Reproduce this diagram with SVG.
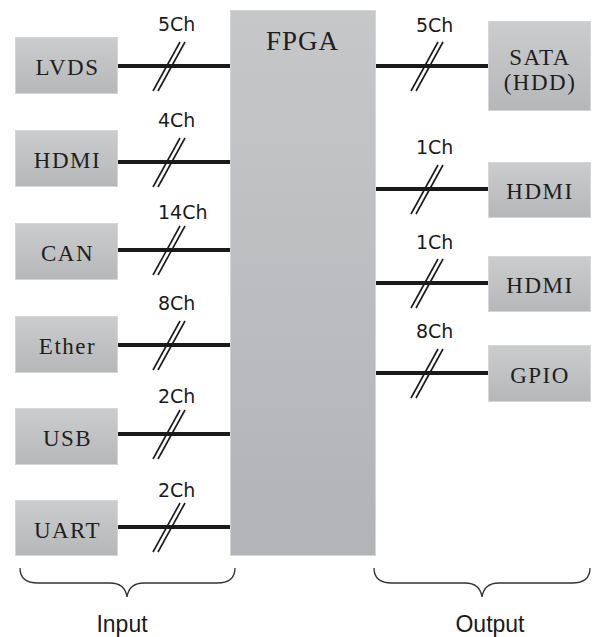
<svg xmlns="http://www.w3.org/2000/svg" xmlns:xlink="http://www.w3.org/1999/xlink" width="592" height="637" viewBox="0 0 592 637">
  <style>
    .box { fill: url(#boxGrad); stroke: #d6d6d8; stroke-width: 1; }
    .fpga { fill: url(#fpgaGrad); stroke: #d6d6d8; stroke-width: 1; }
    .lbl { font-family: "Liberation Serif", "Times New Roman", serif; font-size: 23px; letter-spacing: 1.5px; fill: #1e1e1e; text-anchor: middle; }
    .ch { font-family: "DejaVu Sans", Verdana, sans-serif; font-size: 19px; fill: #1a1a1a; }
    .bus { stroke: #1a1a1a; stroke-width: 4; fill: none; }
    .sl { stroke: #1a1a1a; stroke-width: 1.6; fill: none; }
    .brace { stroke: #333; stroke-width: 1.3; fill: none; }
    .cap { font-family: "Liberation Sans", Arial, sans-serif; font-size: 23px; fill: #1a1a1a; text-anchor: middle; }
  </style>
  <defs>
    <linearGradient id="boxGrad" x1="0" y1="0" x2="0" y2="1">
      <stop offset="0" stop-color="#cbcccd"/>
      <stop offset="1" stop-color="#b6b7b9"/>
    </linearGradient>
    <linearGradient id="fpgaGrad" x1="0" y1="0" x2="0" y2="1">
      <stop offset="0" stop-color="#c6c7c9"/>
      <stop offset="1" stop-color="#b2b3b6"/>
    </linearGradient>
    <g id="slash">
      <line class="sl" x1="-16" y1="25" x2="11" y2="-24"/>
      <line class="sl" x1="-11" y1="25" x2="16" y2="-24"/>
    </g>
  </defs>

  <g id="connectors">
    <line class="bus" x1="118" y1="66" x2="231" y2="66"/>
    <line class="bus" x1="118" y1="162" x2="231" y2="162"/>
    <line class="bus" x1="118" y1="250" x2="231" y2="250"/>
    <line class="bus" x1="118" y1="345" x2="231" y2="345"/>
    <line class="bus" x1="118" y1="434" x2="231" y2="434"/>
    <line class="bus" x1="118" y1="527" x2="231" y2="527"/>
    <line class="bus" x1="375" y1="66" x2="488" y2="66"/>
    <line class="bus" x1="375" y1="189" x2="488" y2="189"/>
    <line class="bus" x1="375" y1="283" x2="488" y2="283"/>
    <line class="bus" x1="375" y1="373" x2="488" y2="373"/>
    <use xlink:href="#slash" x="169" y="66"/>
    <use xlink:href="#slash" x="169" y="162"/>
    <use xlink:href="#slash" x="169" y="250"/>
    <use xlink:href="#slash" x="169" y="345"/>
    <use xlink:href="#slash" x="169" y="434"/>
    <use xlink:href="#slash" x="169" y="527"/>
    <use xlink:href="#slash" x="427" y="66"/>
    <use xlink:href="#slash" x="427" y="189"/>
    <use xlink:href="#slash" x="427" y="283"/>
    <use xlink:href="#slash" x="427" y="373"/>
    <text class="ch" x="158" y="31">5Ch</text>
    <text class="ch" x="158" y="127">4Ch</text>
    <text class="ch" x="158" y="219">14Ch</text>
    <text class="ch" x="158" y="310">8Ch</text>
    <text class="ch" x="158" y="403">2Ch</text>
    <text class="ch" x="158" y="497">2Ch</text>
    <text class="ch" x="416" y="32">5Ch</text>
    <text class="ch" x="416" y="154">1Ch</text>
    <text class="ch" x="416" y="249">1Ch</text>
    <text class="ch" x="416" y="338">8Ch</text>
  </g>

  <g id="fpga">
    <rect class="fpga" x="230.5" y="10.5" width="145" height="545"/>
    <text class="lbl" x="302.5" y="50" style="font-size:27px;letter-spacing:1px">FPGA</text>
  </g>

  <g id="in-lvds">
    <rect class="box" x="15.5" y="37.5" width="102" height="56"/>
    <text class="lbl" x="67.5" y="75">LVDS</text>
  </g>
  <g id="in-hdmi">
    <rect class="box" x="15.5" y="130.5" width="102" height="56"/>
    <text class="lbl" x="67.5" y="168">HDMI</text>
  </g>
  <g id="in-can">
    <rect class="box" x="15.5" y="223.5" width="102" height="56"/>
    <text class="lbl" x="67.5" y="261">CAN</text>
  </g>
  <g id="in-ether">
    <rect class="box" x="15.5" y="316.5" width="102" height="56"/>
    <text class="lbl" x="67.5" y="354">Ether</text>
  </g>
  <g id="in-usb">
    <rect class="box" x="15.5" y="408.5" width="102" height="56"/>
    <text class="lbl" x="67.5" y="446">USB</text>
  </g>
  <g id="in-uart">
    <rect class="box" x="15.5" y="500.5" width="102" height="55"/>
    <text class="lbl" x="67.5" y="538">UART</text>
  </g>

  <g id="out-sata">
    <rect class="box" x="488.5" y="21.5" width="102" height="89"/>
    <text class="lbl" x="540" y="65">SATA</text>
    <text class="lbl" x="540" y="90">(HDD)</text>
  </g>
  <g id="out-hdmi1">
    <rect class="box" x="488.5" y="162.5" width="102" height="55"/>
    <text class="lbl" x="540" y="199">HDMI</text>
  </g>
  <g id="out-hdmi2">
    <rect class="box" x="488.5" y="256.5" width="102" height="55"/>
    <text class="lbl" x="540" y="293">HDMI</text>
  </g>
  <g id="out-gpio">
    <rect class="box" x="488.5" y="345.5" width="102" height="56"/>
    <text class="lbl" x="540" y="383">GPIO</text>
  </g>

  <g id="input-group">
    <path class="brace" d="M20,568 Q20,583 38,583 L110,583 Q125,583 127,597 Q129,583 144,583 L217,583 Q235,583 235,568"/>
    <text class="cap" x="122" y="632">Input</text>
  </g>
  <g id="output-group">
    <path class="brace" d="M374,568 Q374,583 392,583 L465,583 Q480,583 482,597 Q484,583 499,583 L572,583 Q590,583 590,568"/>
    <text class="cap" x="490" y="632">Output</text>
  </g>
</svg>
